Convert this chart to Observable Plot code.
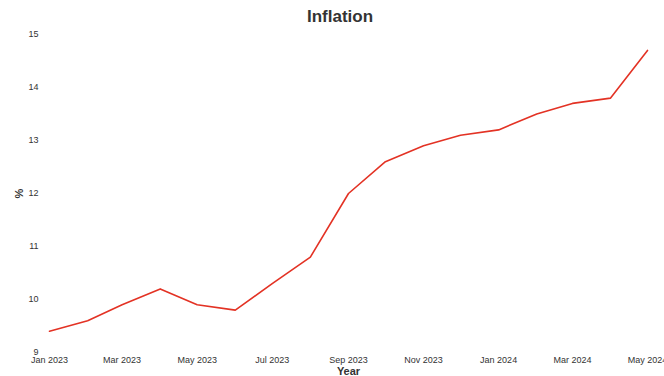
<!DOCTYPE html>
<html>
<head>
<meta charset="utf-8">
<script src="https://cdn.jsdelivr.net/npm/d3@7"></script>
<script src="https://cdn.jsdelivr.net/npm/@observablehq/plot@0.6"></script>
<style>
  html, body { margin: 0; padding: 0; background: #fff; }
  #title { height: 30px; line-height: 34px; width: 664px; box-sizing: border-box; padding-left: 16px; text-align: center;
           font-family: "Liberation Sans", Arial, sans-serif; font-weight: bold; font-size: 17px; color: #333; }
</style>
</head>
<body>
<div id="title">Inflation</div>
<div id="chart"></div>
<script>
const months = ["2023-01","2023-02","2023-03","2023-04","2023-05","2023-06","2023-07","2023-08","2023-09","2023-10","2023-11","2023-12","2024-01","2024-02","2024-03","2024-04","2024-05"];
const inflation = [9.4, 9.6, 9.9, 10.2, 9.9, 9.8, 10.3, 10.8, 12.0, 12.6, 12.9, 13.1, 13.2, 13.5, 13.7, 13.8, 14.7];
const yTicks = [9, 10, 11, 12, 13, 14, 15];

const data = months.map((m, i) => ({date: new Date(m + "-01T00:00:00Z"), value: inflation[i]}));

const chart = Plot.plot({
  width: 664,
  height: 346,
  marginTop: 4,
  marginBottom: 24,
  marginLeft: 49,
  marginRight: 17,
  style: {fontFamily: "'Liberation Sans', Arial, sans-serif", fontSize: "9px", color: "#333", overflow: "visible"},
  x: {type: "utc", domain: [data[0].date, data[data.length - 1].date]},
  y: {domain: [9, 15]},
  marks: [
    Plot.axisX({
      ticks: d3.utcMonth.every(2),
      tickFormat: d3.utcFormat("%b %Y"),
      tickSize: 0,
      tickPadding: 4,
      label: "Year",
      labelAnchor: "center",
      labelArrow: "none",
      labelOffset: 22,
      fontSize: 9
    }),
    Plot.axisY({
      ticks: yTicks,
      tickFormat: d3.format("d"),
      tickSize: 0,
      tickPadding: 11,
      label: "%",
      labelAnchor: "center",
      labelArrow: "none",
      labelOffset: 34
    }),
    Plot.lineY(data, {x: "date", y: "value", stroke: "#e33224", strokeWidth: 1.6})
  ]
});
chart.querySelectorAll('[aria-label="x-axis label"] text, [aria-label="y-axis label"] text').forEach(t => {
  t.setAttribute("font-weight", "bold");
  t.setAttribute("font-size", "11px");
});
document.getElementById("chart").appendChild(chart);
</script>
</body>
</html>
